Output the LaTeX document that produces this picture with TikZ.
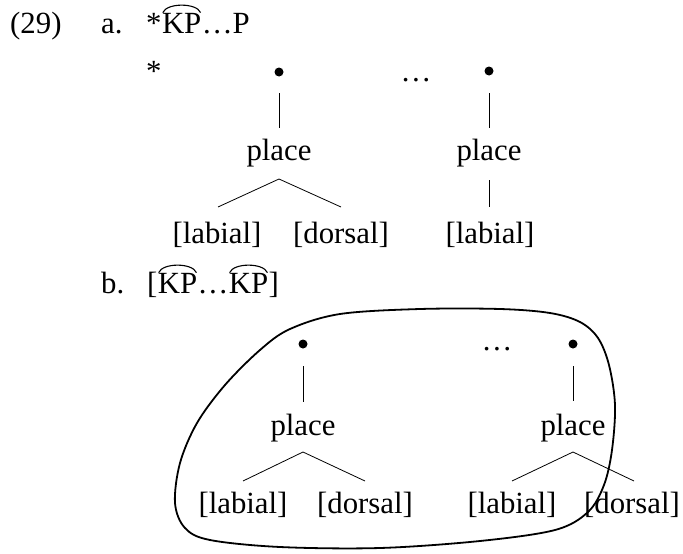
\documentclass[tikz,border=0pt]{standalone}
\usepackage{fontspec}
\setmainfont{Liberation Serif}
\begin{document}
\begin{tikzpicture}[x=1pt,y=-1pt,
  txt/.style={inner sep=0pt,anchor=base,font=\fontsize{30.8}{36}\selectfont},
  txtw/.style={txt,anchor=base west},
  bul/.style={circle,fill=black,inner sep=0pt,minimum size=9pt},
  tl/.style={line width=0.8pt},
  arcl/.style={line width=1.1pt},
  blob/.style={line width=1.8pt}]
\useasboundingbox (0,0) rectangle (683,554);
% line a
\node[txtw] (n29) at (10,33) {(29)};
\node[txtw] (la) at (101,33) {a.};
\node[txtw] (sa) at (146,33) {*};
\node[txtw] (kpa) at (sa.base east) {KP};
\node[txtw] (ra) at (kpa.base east) {\ldots P};
\draw[arcl] ([xshift=1pt,yshift=0pt]kpa.north west) .. controls ([xshift=5pt,yshift=10pt]kpa.north west) and ([xshift=-5pt,yshift=10pt]kpa.north east) .. ([xshift=-1pt,yshift=0pt]kpa.north east);
% tree a1
\node[txtw] (sb) at (146,81) {*};
\node[bul] (a1) at (279,72) {};
\node[txt] (a1p) at (279,160) {place};
\node[txt] (a1l) at (217,243) {[labial]};
\node[txt] (a1d) at (341,243) {[dorsal]};
\coordinate (a1t) at (279,93);
\coordinate (a1b) at (279,128);
\coordinate (a1j) at (279,179);
\coordinate (a1lj) at (218,207);
\coordinate (a1dj) at (341,207);
\draw[tl] (a1t) -- (a1b);
\draw[tl] (a1lj) -- (a1j) -- (a1dj);
% tree a2
\node[txt] (dotsa) at (416,81) {\ldots};
\node[bul] (a2) at (489,71) {};
\node[txt] (a2p) at (489,160) {place};
\node[txt] (a2l) at (490,243) {[labial]};
\coordinate (a2t) at (489,93);
\coordinate (a2b) at (489,128);
\coordinate (a2u) at (489,180);
\coordinate (a2v) at (489,207);
\draw[tl] (a2t) -- (a2b);
\draw[tl] (a2u) -- (a2v);
% line b
\node[txtw] (lb) at (101,293) {b.};
\node[txtw] (lbr) at (147,293) {[};
\node[txtw] (kpb1) at (lbr.base east) {KP};
\node[txtw] (mid) at (kpb1.base east) {\ldots};
\node[txtw] (kpb2) at (mid.base east) {KP};
\node[txtw] (rbr) at (kpb2.base east) {]};
\draw[arcl] ([xshift=1pt,yshift=0pt]kpb1.north west) .. controls ([xshift=5pt,yshift=10pt]kpb1.north west) and ([xshift=-5pt,yshift=10pt]kpb1.north east) .. ([xshift=-1pt,yshift=0pt]kpb1.north east);
\draw[arcl] ([xshift=1pt,yshift=0pt]kpb2.north west) .. controls ([xshift=5pt,yshift=10pt]kpb2.north west) and ([xshift=-5pt,yshift=10pt]kpb2.north east) .. ([xshift=-1pt,yshift=0pt]kpb2.north east);
% tree b1
\node[bul] (b1) at (303,344) {};
\node[txt] (b1p) at (303,435) {place};
\node[txt] (b1l) at (243,513) {[labial]};
\node[txt] (b1d) at (365,513) {[dorsal]};
\coordinate (b1t) at (303,366);
\coordinate (b1b) at (303,402);
\coordinate (b1j) at (303,452);
\coordinate (b1lj) at (243,481);
\coordinate (b1dj) at (365,481);
\draw[tl] (b1t) -- (b1b);
\draw[tl] (b1lj) -- (b1j) -- (b1dj);
% tree b2
\node[txt] (dotsb) at (497,350) {\ldots};
\node[bul] (b2) at (573,344) {};
\node[txt] (b2p) at (573,435) {place};
\node[txt] (b2l) at (512,513) {[labial]};
\node[txt] (b2d) at (632,513) {[dorsal]};
\coordinate (b2t) at (573,366);
\coordinate (b2b) at (573,401);
\coordinate (b2j) at (573,452);
\coordinate (b2lj) at (512,481);
\coordinate (b2dj) at (634,481);
\draw[tl] (b2t) -- (b2b);
\draw[tl] (b2lj) -- (b2j) -- (b2dj);
% blob
\draw[blob] plot[smooth cycle, tension=0.55] coordinates {
 (340,314) (420,309) (500,309) (550,313) (580,322) (598,338) (609,365) (615,405)
 (612,450) (604,485) (588,512) (555,530) (480,541) (380,548) (280,547) (210,540)
 (185,528) (175,503) (180,463) (197,423) (225,385) (260,350) (290,329)};
\end{tikzpicture}
\end{document}
